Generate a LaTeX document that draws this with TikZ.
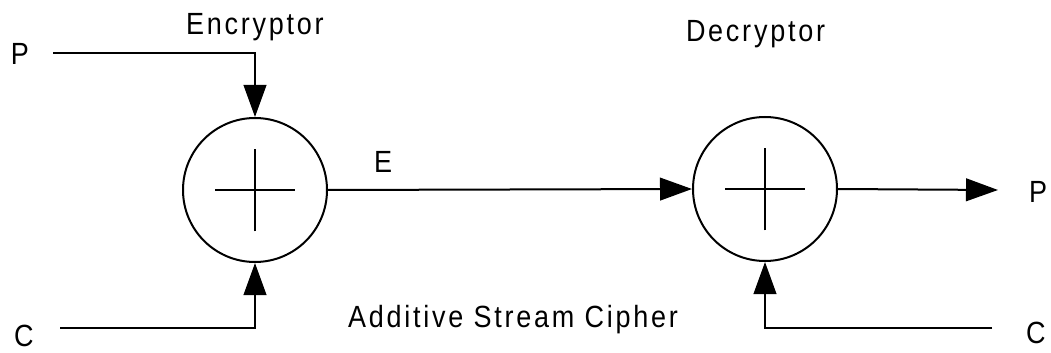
\documentclass[tikz,border=0pt]{standalone}
\usepackage{fontspec}
\setmainfont[LetterSpace=9, FakeStretch=0.88]{Liberation Sans}
\usetikzlibrary{arrows.meta}

\begin{document}
\begin{tikzpicture}[x=0.75pt, y=-0.75pt, line width=1.5pt,
    adder/.style={draw, circle, minimum size=108pt, inner sep=0pt},
    lbl/.style={anchor=base west, inner sep=0pt, font=\fontsize{23}{27}\selectfont},
    arr/.style={-{Triangle[length=24pt, width=17pt]}}]
      \useasboundingbox (0,0) rectangle (1051,353);
      % the two adders
      \node [adder] (enc) at (255,190) {};
      \node [adder] (dec) at (765,189) {};
      \foreach \n in {enc,dec} {
        \draw ([xshift=-30pt]\n.center) -- ([xshift=30pt]\n.center);
        \draw ([yshift=-31pt]\n.center) -- ([yshift=31pt]\n.center);
      }
      % labels
      \node [lbl] (ptext) at (10,65) {P};
      \node [lbl] (ctext) at (13,346) {C};
      \node [lbl] (enctext) at (185,35) {Encryptor};
      \node [lbl] (dectext) at (685,42) {Decryptor};
      \node [lbl] (etext) at (373,173) {E};
      \node [lbl] (ciphertext) at (347,327) {Additive Stream Cipher};
      \node [lbl] (pout) at (1028,202) {P};
      \node [lbl] (cout) at (1025,343) {C};
      % line ends
      \coordinate (pstart) at (53,53);
      \coordinate (cstart) at (60,328);
      \coordinate (pend) at (998,190);
      \coordinate (cend) at (992,328);
      \draw [arr] (pstart) -| (enc.north);
      \draw [arr] (cstart) -| (enc.south);
      \draw [arr] (enc.east) -- (dec.west);
      \draw [arr] (dec.east) -- (pend);
      \draw [arr] (cend) -| (dec.south);
\end{tikzpicture}
\end{document}
